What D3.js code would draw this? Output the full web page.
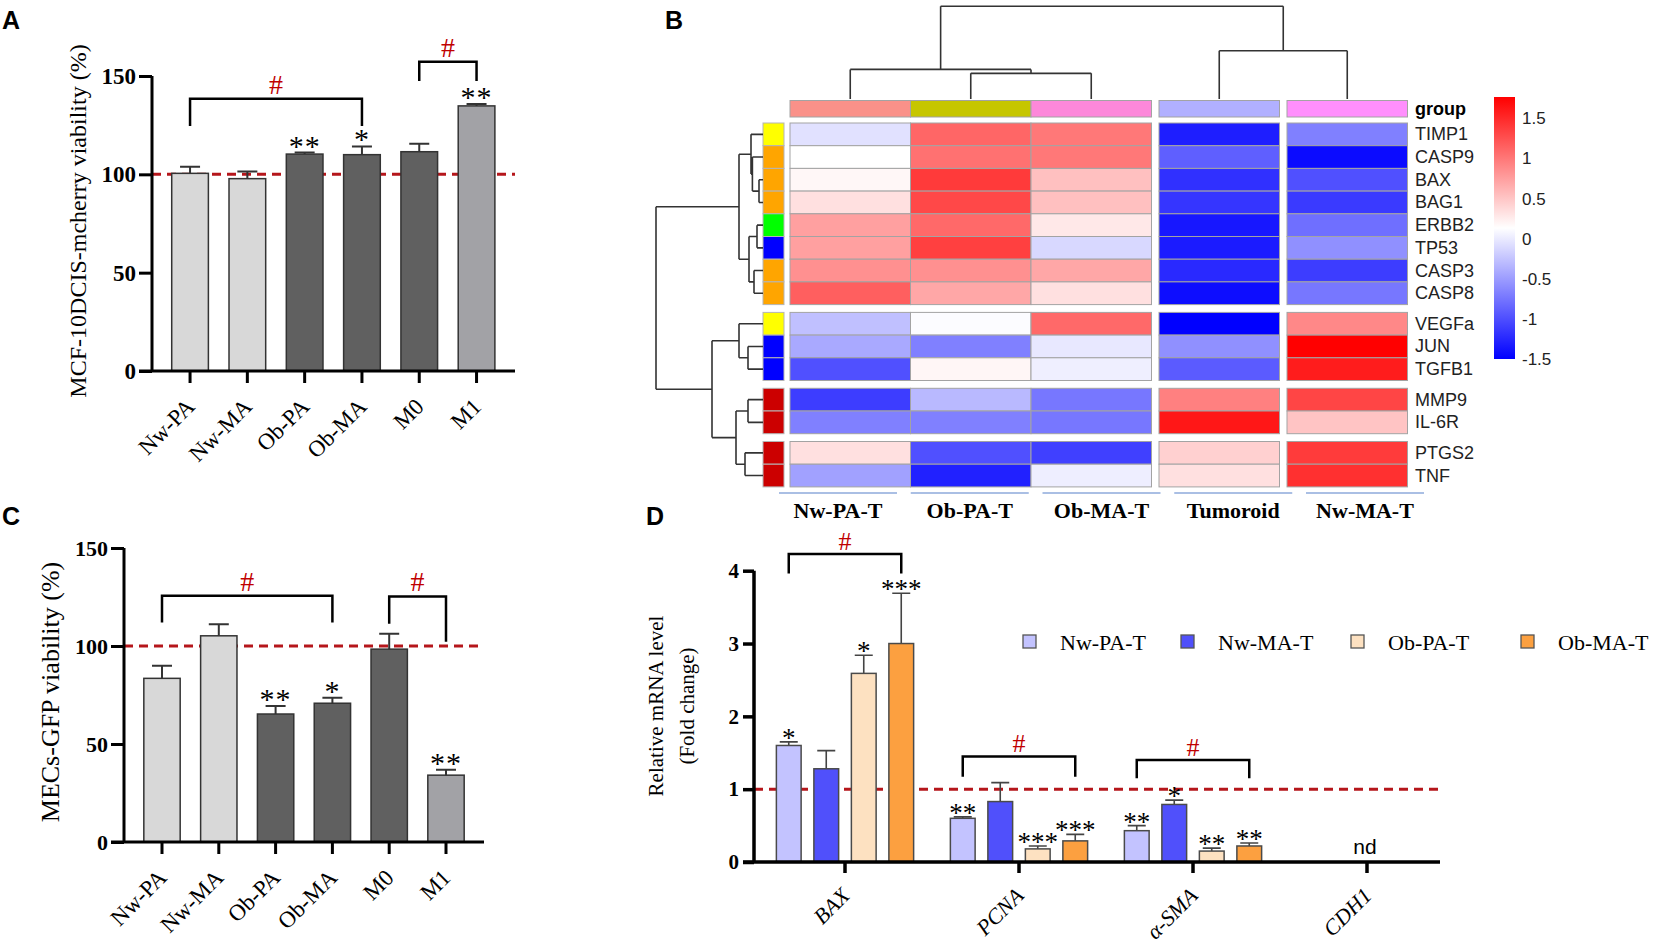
<!DOCTYPE html>
<html>
<head>
<meta charset="utf-8">
<script src="https://cdn.jsdelivr.net/npm/d3@7"></script>
<style>
  body { margin: 0; background: #fff; }
  svg { display: block; }
</style>
</head>
<body>
<svg id="fig" width="1654" height="945"></svg>
<script>
// ---- Panels A and C: viability bars
const cellGroups = ["Nw-PA", "Nw-MA", "Ob-PA", "Ob-MA", "M0", "M1"];
const barShades = ["#d8d8d8", "#d8d8d8", "#606060", "#606060", "#606060", "#a2a2a6"];
const mcfMean = [100.5, 97.8, 110.3, 110.0, 111.5, 134.8];
const mcfSem = [3.4, 3.6, 0.8, 4.2, 4.1, 1.0];
const mcfStars = ["", "", "**", "*", "", "**"];
const mecMean = [83.5, 105.2, 65.3, 70.8, 98.4, 34.1];
const mecSem = [6.4, 5.9, 4.1, 2.8, 7.9, 2.7];
const mecStars = ["", "", "**", "*", "", "**"];
// [from, to, top, left foot, right foot] in % units
const mcfBrackets = [[0, 3, 138.4, 124.6, 124.6], [4, 5, 157.2, 147.5, 147.5]];
const mecBrackets = [[0, 3, 125.6, 112, 112], [4, 5, 125.3, 111.3, 102.2]];
const viabilityTicks = [0, 50, 100, 150];

// ---- Panel D: qPCR
const genes = ["BAX", "PCNA", "α-SMA", "CDH1"];
const tumoroids = ["Nw-PA-T", "Nw-MA-T", "Ob-PA-T", "Ob-MA-T"];
const tumoroidColors = ["#c3c3ff", "#5050fb", "#fde1c1", "#fca040"];
const nwPaMrna = [1.60, 0.60, 0.43, null];
const nwMaMrna = [1.28, 0.83, 0.79, null];
const obPaMrna = [2.59, 0.18, 0.15, null];
const obMaMrna = [3.00, 0.29, 0.22, null];
const nwPaErr = [0.05, 0.02, 0.07, null];
const nwMaErr = [0.25, 0.26, 0.06, null];
const obPaErr = [0.25, 0.04, 0.04, null];
const obMaErr = [0.69, 0.09, 0.04, null];
const nwPaStars = ["*", "**", "**", ""];
const nwMaStars = ["", "", "*", ""];
const obPaStars = ["*", "***", "**", ""];
const obMaStars = ["***", "***", "**", ""];
// gene, top, foot (fold change units); bracket spans Nw-PA-T .. Ob-MA-T
const mrnaBrackets = [["BAX", 4.23, 3.96], ["PCNA", 1.45, 1.17], ["α-SMA", 1.40, 1.15]];
const mrnaTicks = [0, 1, 2, 3, 4];

// ---- Panel B: heatmap (row z-scores per group)
const heatGenes = ["TIMP1", "CASP9", "BAX", "BAG1", "ERBB2", "TP53", "CASP3", "CASP8",
                   "VEGFa", "JUN", "TGFB1", "MMP9", "IL-6R", "PTGS2", "TNF"];
const geneType = ["y", "o", "o", "o", "g", "b", "o", "o", "y", "b", "b", "r", "r", "r", "r"];
const typeColors = { y: "#ffff00", o: "#ffa500", g: "#00ff00", b: "#0000ff", r: "#cc0000" };
const heatGroups = ["Nw-PA-T", "Ob-PA-T", "Ob-MA-T", "Tumoroid", "Nw-MA-T"];
const groupColors = ["#fa9189", "#c6c600", "#fd88da", "#b1b0ff", "#ff8ffd"];
const zNwPa = [-0.05, 0.14, 0.19, 0.34, 0.75, 0.75, 0.85, 1.16, -0.26, -0.41, -0.98, -1.10, -0.67, 0.34, -0.46];
const zObPa = [1.12, 1.05, 1.40, 1.31, 1.10, 1.36, 0.85, 0.70, 0.12, -0.67, 0.20, -0.31, -0.67, -0.98, -1.28];
const zObMa = [1.00, 1.00, 0.54, 0.54, 0.29, -0.11, 0.70, 0.34, 1.10, -0.01, 0.04, -0.73, -0.73, -1.08, 0.03];
const zTumoroid = [-1.30, -0.88, -1.18, -1.15, -1.34, -1.32, -1.23, -1.41, -1.49, -0.57, -0.91, 0.95, 1.62, 0.44, 0.34];
const zNwMa = [-0.67, -1.42, -0.98, -1.12, -0.78, -0.57, -1.10, -0.73, 0.90, 1.77, 1.59, 1.33, 0.52, 1.39, 1.46];
const zRange = [-1.49, 1.77];
const legendTicks = [1.5, 1, 0.5, 0, -0.5, -1, -1.5];
const rowBreaks = [8, 11, 13];   // cutree gaps (before these rows)
const colBreaks = [3, 4];
// dendrograms: leaves are indices, h is merge height
const rowTree = { h: 107, c: [
  { h: 24, c: [
    { h: 12, c: [0, { h: 10.6, c: [1, { h: 4, c: [2, 3] }] }] },
    { h: 14, c: [{ h: 6, c: [4, 5] }, { h: 9, c: [6, 7] }] }
  ] },
  { h: 51, c: [
    { h: 24, c: [8, { h: 15, c: [9, 10] }] },
    { h: 27, c: [{ h: 15, c: [11, 12] }, { h: 18, c: [13, 14] }] }
  ] }
] };
const colTree = { h: 94, c: [{ h: 30, c: [0, { h: 26, c: [1, 2] }] }, { h: 49, c: [3, 4] }] };

const SERIF = "'Liberation Serif','Times New Roman',serif";
const SANS = "'Liberation Sans',Arial,sans-serif";
const DASH_RED = "#b5161b";
const svg = d3.select("#fig");

// panel letters
[["A", 2, 29], ["B", 665, 29], ["C", 2, 525], ["D", 646, 525]].forEach(([t, x, y]) => {
  svg.append("text").attr("x", x).attr("y", y).attr("font-family", SANS)
    .attr("font-weight", "bold").attr("font-size", 25).text(t);
});

// Viability panel (A, C) ---------------------------------------
function drawViability(cfg) {
  const g = svg.append("g");
  const y = d3.scaleLinear().domain([0, 150]).range([cfg.y0, cfg.yTop]);
  const x = d3.scaleBand().domain(cellGroups).range(cfg.xRange)
    .paddingInner(0.36).paddingOuter(0.18);
  const cx = i => x(cellGroups[i]) + x.bandwidth() / 2;

  // reference line at 100%
  g.append("line")
    .attr("x1", cfg.axisX).attr("x2", cfg.axisRight)
    .attr("y1", y(100)).attr("y2", y(100))
    .attr("stroke", DASH_RED).attr("stroke-width", 3).attr("stroke-dasharray", "9,6");

  // bars
  g.selectAll("rect.bar").data(cellGroups).join("rect")
    .attr("x", d => x(d)).attr("width", x.bandwidth())
    .attr("y", (d, i) => y(cfg.mean[i])).attr("height", (d, i) => cfg.y0 - y(cfg.mean[i]))
    .attr("fill", (d, i) => barShades[i]).attr("stroke", "#333").attr("stroke-width", 1.5);

  // error bars (upper only)
  cellGroups.forEach((d, i) => {
    const top = y(cfg.mean[i] + cfg.sem[i]);
    g.append("path")
      .attr("d", `M${cx(i)},${y(cfg.mean[i])}V${top}M${cx(i) - 10},${top}H${cx(i) + 10}`)
      .attr("stroke", "#333").attr("stroke-width", 2).attr("fill", "none");
    if (cfg.stars[i]) {
      g.append("text").attr("x", cx(i)).attr("y", top + 3)
        .attr("text-anchor", "middle").attr("font-family", SERIF).attr("font-size", 30)
        .attr("letter-spacing", 1).text(cfg.stars[i]);
    }
  });

  // significance brackets
  cfg.brackets.forEach(([a, b, top, footL, footR]) => {
    g.append("path")
      .attr("d", `M${cx(a)},${y(footL)}V${y(top)}H${cx(b)}V${y(footR)}`)
      .attr("fill", "none").attr("stroke", "#000").attr("stroke-width", 2.5);
    g.append("text").attr("x", (cx(a) + cx(b)) / 2).attr("y", y(top) - 5)
      .attr("text-anchor", "middle").attr("font-family", SERIF).attr("font-size", 28)
      .attr("fill", "#c00000").text("#");
  });

  // axes
  const yAxis = g.append("g").attr("transform", `translate(${cfg.axisX},0)`)
    .call(d3.axisLeft(y).tickValues(viabilityTicks).tickSize(13).tickPadding(3).tickSizeOuter(0));
  yAxis.select(".domain").remove();
  yAxis.selectAll("line").attr("stroke-width", 3);
  yAxis.selectAll("text").attr("font-family", SERIF).attr("font-weight", "bold")
    .attr("font-size", cfg.tickFont).attr("fill", "#000");

  const xAxis = g.append("g").attr("transform", `translate(0,${cfg.y0})`)
    .call(d3.axisBottom(x).tickSize(12).tickSizeOuter(0));
  xAxis.select(".domain").remove();
  xAxis.selectAll("line").attr("stroke-width", 3);
  xAxis.selectAll("text")
    .attr("y", 0).attr("dy", 0).attr("transform", "translate(6,37) rotate(-45)")
    .style("text-anchor", "end")
    .attr("font-family", SERIF).attr("font-size", 23).attr("fill", "#000");

  g.append("path")
    .attr("d", `M${cfg.axisX},${cfg.yTop}V${cfg.y0}M${cfg.axisX - 13},${cfg.y0}H${cfg.axisRight}`)
    .attr("stroke", "#000").attr("stroke-width", 3).attr("fill", "none");

  g.append("text")
    .attr("transform", `translate(${cfg.labelX},${cfg.labelY}) rotate(-90)`)
    .attr("text-anchor", "middle").attr("font-family", SERIF).attr("font-size", cfg.labelFont)
    .text(cfg.label);
}

drawViability({
  mean: mcfMean, sem: mcfSem, stars: mcfStars, brackets: mcfBrackets,
  y0: 371, yTop: 76, xRange: [161.4, 505.2], axisX: 152, axisRight: 515,
  tickFont: 23, label: "MCF-10DCIS-mcherry viability (%)", labelX: 86, labelY: 221, labelFont: 24
});
drawViability({
  mean: mecMean, sem: mecSem, stars: mecStars, brackets: mecBrackets,
  y0: 842, yTop: 548, xRange: [133.6, 474.4], axisX: 124, axisRight: 484,
  tickFont: 22, label: "MECs-GFP viability (%)", labelX: 59, labelY: 692, labelFont: 26
});

// Panel D ------------------------------------------------------
(function () {
  const g = svg.append("g");
  const means = [nwPaMrna, nwMaMrna, obPaMrna, obMaMrna];
  const errs = [nwPaErr, nwMaErr, obPaErr, obMaErr];
  const stars = [nwPaStars, nwMaStars, obPaStars, obMaStars];
  const y0 = 862, axisX = 754, axisRight = 1440;
  const y = d3.scaleLinear().domain([0, 4]).range([y0, 570.7]);
  const x = d3.scaleBand().domain(genes).range([758, 1454]);
  const xi = d3.scaleBand().domain(tumoroids).range([-75, 75]).paddingInner(0.34).paddingOuter(0.17);
  const center = gene => x(gene) + x.bandwidth() / 2;
  const barX = (gene, t) => center(gene) + xi(t);
  const barC = (gene, t) => barX(gene, t) + xi.bandwidth() / 2;

  g.append("line").attr("x1", axisX).attr("x2", axisRight).attr("y1", y(1)).attr("y2", y(1))
    .attr("stroke", DASH_RED).attr("stroke-width", 3).attr("stroke-dasharray", "9,6");

  tumoroids.forEach((t, k) => {
    genes.forEach((gene, j) => {
      const v = means[k][j];
      if (v == null) return;
      const top = y(v + errs[k][j]);
      const c = barC(gene, t);
      g.append("path").attr("d", `M${c},${y(v)}V${top}M${c - 9},${top}H${c + 9}`)
        .attr("stroke", "#444").attr("stroke-width", 1.6).attr("fill", "none");
      g.append("rect").attr("x", barX(gene, t)).attr("width", xi.bandwidth())
        .attr("y", y(v)).attr("height", y0 - y(v))
        .attr("fill", tumoroidColors[k]).attr("stroke", "#4a4a4a").attr("stroke-width", 1.5);
      if (stars[k][j]) {
        g.append("text").attr("x", c).attr("y", top + 5).attr("text-anchor", "middle")
          .attr("font-family", SERIF).attr("font-size", 27).attr("letter-spacing", 0)
          .text(stars[k][j]);
      }
    });
  });

  g.append("text").attr("x", center("CDH1") - 2).attr("y", 854).attr("text-anchor", "middle")
    .attr("font-family", SANS).attr("font-size", 21).text("nd");

  mrnaBrackets.forEach(([gene, top, foot]) => {
    const a = barC(gene, tumoroids[0]), b = barC(gene, tumoroids[3]);
    g.append("path").attr("d", `M${a},${y(foot)}V${y(top)}H${b}V${y(foot)}`)
      .attr("fill", "none").attr("stroke", "#000").attr("stroke-width", 2.5);
    g.append("text").attr("x", (a + b) / 2).attr("y", y(top) - 4).attr("text-anchor", "middle")
      .attr("font-family", SERIF).attr("font-size", 26).attr("fill", "#c00000").text("#");
  });

  const yAxis = g.append("g").attr("transform", `translate(${axisX},0)`)
    .call(d3.axisLeft(y).tickValues(mrnaTicks).tickFormat(d3.format("d"))
      .tickSize(11).tickPadding(4).tickSizeOuter(0));
  yAxis.select(".domain").remove();
  yAxis.selectAll("line").attr("stroke-width", 3.5);
  yAxis.selectAll("text").attr("font-family", SERIF).attr("font-weight", "bold")
    .attr("font-size", 21).attr("fill", "#000");

  const xAxis = g.append("g").attr("transform", `translate(0,${y0})`)
    .call(d3.axisBottom(x).tickSize(11).tickSizeOuter(0));
  xAxis.select(".domain").remove();
  xAxis.selectAll("line").attr("stroke-width", 3.5);
  xAxis.selectAll("text")
    .attr("y", 0).attr("dy", 0).attr("transform", "translate(6,35) rotate(-45)")
    .style("text-anchor", "end").attr("font-style", "italic")
    .attr("font-family", SERIF).attr("font-size", 22).attr("fill", "#000");

  g.append("path").attr("d", `M${axisX},${y(4)}V${y0}M${axisX - 11},${y0}H${axisRight}`)
    .attr("stroke", "#000").attr("stroke-width", 3.5).attr("fill", "none");

  [["Relative mRNA level", 663], ["(Fold change)", 694]].forEach(([t, lx]) => {
    g.append("text").attr("transform", `translate(${lx},706) rotate(-90)`)
      .attr("text-anchor", "middle").attr("font-family", SERIF).attr("font-size", 21).text(t);
  });

  // legend
  const legendX = [1023, 1181, 1351, 1521];
  tumoroids.forEach((t, k) => {
    g.append("rect").attr("x", legendX[k]).attr("y", 635).attr("width", 13).attr("height", 13)
      .attr("fill", tumoroidColors[k]).attr("stroke", "#555").attr("stroke-width", 1.3);
    g.append("text").attr("x", legendX[k] + 37).attr("y", 650)
      .attr("font-family", SERIF).attr("font-size", 22).text(t);
  });
})();

// Panel B ------------------------------------------------------
(function () {
  const g = svg.append("g");
  const zCols = [zNwPa, zObPa, zObMa, zTumoroid, zNwMa];
  const cellW = 120.5, cellH = 22.7, gapW = 7.5, gapH = 7.8;
  const left = 790, top = 123;
  const colX = j => left + j * cellW + colBreaks.filter(b => b <= j).length * gapW;
  const rowY = i => top + i * cellH + rowBreaks.filter(b => b <= i).length * gapH;
  const color = d3.scaleLinear()
    .domain([zRange[0], (zRange[0] + zRange[1]) / 2, zRange[1]])
    .range(["#0000ff", "#ffffff", "#ff0000"]);

  // cells
  zCols.forEach((col, j) => {
    g.selectAll(null).data(col).join("rect")
      .attr("x", colX(j)).attr("y", (d, i) => rowY(i))
      .attr("width", cellW).attr("height", cellH)
      .attr("fill", d => color(d)).attr("stroke", "#a3a3a3").attr("stroke-width", 1);
  });

  // group annotation
  g.selectAll(null).data(heatGroups).join("rect")
    .attr("x", (d, j) => colX(j)).attr("y", 100.5).attr("width", cellW).attr("height", 16.5)
    .attr("fill", (d, j) => groupColors[j]).attr("stroke", "#a3a3a3").attr("stroke-width", 1);
  g.append("text").attr("x", 1415).attr("y", 108.75).attr("dominant-baseline", "central")
    .attr("font-family", SANS).attr("font-weight", "bold").attr("font-size", 18).text("group");

  // gene type annotation
  g.selectAll(null).data(geneType).join("rect")
    .attr("x", 763).attr("y", (d, i) => rowY(i)).attr("width", 21).attr("height", cellH)
    .attr("fill", d => typeColors[d]).attr("stroke", "#b5b5b5").attr("stroke-width", 1);

  // row labels
  g.selectAll(null).data(heatGenes).join("text")
    .attr("x", 1415).attr("y", (d, i) => rowY(i) + cellH / 2).attr("dominant-baseline", "central")
    .attr("font-family", SANS).attr("font-size", 18).attr("fill", "#222").text(d => d);

  // dendrograms
  function tree(node, leafPos, hPos, horizontal, out) {
    if (typeof node === "number") return { p: leafPos(node), h: 0 };
    const kids = node.c.map(k => tree(k, leafPos, hPos, horizontal, out));
    const hn = hPos(node.h);
    kids.forEach(k => {
      out.push(horizontal ? `M${hPos(k.h)},${k.p}H${hn}` : `M${k.p},${hPos(k.h)}V${hn}`);
    });
    out.push(horizontal ? `M${hn},${kids[0].p}V${kids[1].p}` : `M${kids[0].p},${hn}H${kids[1].p}`);
    return { p: d3.mean(kids, k => k.p), h: node.h };
  }
  const rowPaths = [];
  tree(rowTree, i => rowY(i) + cellH / 2, d3.scaleLinear().domain([0, 107]).range([763, 656]), true, rowPaths);
  const colPaths = [];
  tree(colTree, j => colX(j) + cellW / 2, d3.scaleLinear().domain([0, 94]).range([99, 6.3]), false, colPaths);
  g.append("path").attr("d", rowPaths.join("") + colPaths.join(""))
    .attr("fill", "none").attr("stroke", "#333").attr("stroke-width", 1.6);

  // colour key
  const key = d3.scaleLinear().domain(zRange).range([359, 97]);
  const grad = svg.append("defs").append("linearGradient").attr("id", "zkey")
    .attr("x1", 0).attr("x2", 0).attr("y1", 1).attr("y2", 0);
  [[0, "#0000ff"], [0.5, "#ffffff"], [1, "#ff0000"]].forEach(([o, c]) => {
    grad.append("stop").attr("offset", o).attr("stop-color", c);
  });
  g.append("rect").attr("x", 1494).attr("y", key(zRange[1])).attr("width", 21)
    .attr("height", key(zRange[0]) - key(zRange[1])).attr("fill", "url(#zkey)");
  g.selectAll(null).data(legendTicks).join("text")
    .attr("x", 1522).attr("y", d => key(d)).attr("dominant-baseline", "central")
    .attr("font-family", SANS).attr("font-size", 17).attr("fill", "#222").text(d => d);

  // group footer
  const foot = d3.scalePoint().domain(heatGroups).range([838, 1365]);
  heatGroups.forEach(d => {
    g.append("line").attr("x1", foot(d) - 59).attr("x2", foot(d) + 59).attr("y1", 493).attr("y2", 493)
      .attr("stroke", "#8eaadb").attr("stroke-width", 1.5);
    g.append("text").attr("x", foot(d)).attr("y", 518).attr("text-anchor", "middle")
      .attr("font-family", SERIF).attr("font-weight", "bold").attr("font-size", 22).text(d);
  });
})();
</script>
</body>
</html>
